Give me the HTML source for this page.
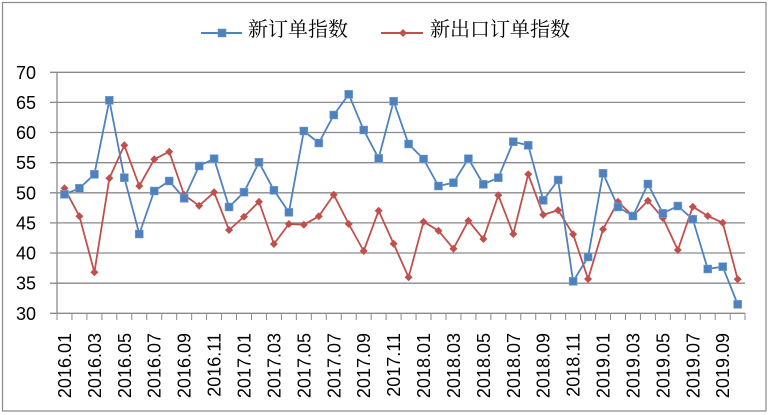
<!DOCTYPE html>
<html><head><meta charset="utf-8"><style>
html,body{margin:0;padding:0;background:#fff;}
svg{display:block;}
text{font-family:"Liberation Sans","DejaVu Sans",sans-serif;}
.cjk{font-family:"Liberation Serif","Noto Serif CJK SC","Noto Sans CJK SC",serif;font-size:20px;fill:#000;}
.yl{font-size:18px;fill:#000;text-anchor:end;}
.xl{font-size:18px;fill:#000;text-anchor:end;}
</style></head><body>
<svg width="771" height="415" viewBox="0 0 771 415" xmlns="http://www.w3.org/2000/svg">
<rect x="0" y="0" width="771" height="415" fill="#fff"/>
<rect x="2.5" y="2.5" width="763.5" height="408.5" fill="none" stroke="#8a8a8a" stroke-width="1.2"/>
<!-- legend -->
<line x1="201" y1="33" x2="242" y2="33" stroke="#4F81BD" stroke-width="2"/>
<rect x="218" y="29" width="8" height="8" fill="#4F81BD" stroke="#6d98cc" stroke-width="0.6"/>
<text class="cjk" x="248" y="36">新订单指数</text>
<line x1="381" y1="33" x2="423" y2="33" stroke="#C0504D" stroke-width="2"/>
<polygon points="403,29 407,33 403,37 399,33" fill="#C0504D"/>
<text class="cjk" x="430" y="36">新出口订单指数</text>
<!-- grid -->
<g stroke="#8a8a8a" stroke-width="1.3">
<line x1="50" y1="72.3" x2="745" y2="72.3"/>
<line x1="50" y1="102.4" x2="745" y2="102.4"/>
<line x1="50" y1="132.5" x2="745" y2="132.5"/>
<line x1="50" y1="162.7" x2="745" y2="162.7"/>
<line x1="50" y1="192.8" x2="745" y2="192.8"/>
<line x1="50" y1="222.9" x2="745" y2="222.9"/>
<line x1="50" y1="253.0" x2="745" y2="253.0"/>
<line x1="50" y1="283.2" x2="745" y2="283.2"/>
<line x1="50" y1="313.3" x2="745" y2="313.3"/>
<line x1="57" y1="72.3" x2="57" y2="313.3"/>
</g>
<g stroke="#8a8a8a" stroke-width="1">
<path d="M57,313v7M71.96,313v7M86.92,313v7M101.88,313v7M116.84,313v7M131.8,313v7M146.76,313v7M161.72,313v7M176.68,313v7M191.64,313v7M206.6,313v7M221.56,313v7M236.52,313v7M251.48,313v7M266.44,313v7M281.4,313v7M296.36,313v7M311.32,313v7M326.28,313v7M341.24,313v7M356.2,313v7M371.16,313v7M386.12,313v7M401.08,313v7M416.04,313v7M431,313v7M445.96,313v7M460.92,313v7M475.88,313v7M490.84,313v7M505.8,313v7M520.76,313v7M535.72,313v7M550.68,313v7M565.64,313v7M580.6,313v7M595.56,313v7M610.52,313v7M625.48,313v7M640.44,313v7M655.4,313v7M670.36,313v7M685.32,313v7M700.28,313v7M715.24,313v7M730.2,313v7M745,313v7"/>
</g>
<!-- y labels -->
<text class="yl" x="36" y="78.8">70</text>
<text class="yl" x="36" y="108.9">65</text>
<text class="yl" x="36" y="139">60</text>
<text class="yl" x="36" y="169.2">55</text>
<text class="yl" x="36" y="199.3">50</text>
<text class="yl" x="36" y="229.4">45</text>
<text class="yl" x="36" y="259.5">40</text>
<text class="yl" x="36" y="289.7">35</text>
<text class="yl" x="36" y="319.8">30</text>
<!-- x labels -->
<g class="xl">
<text transform="translate(71,333) rotate(-90)" class="xl">2016.01</text>
<text transform="translate(100.9,333) rotate(-90)" class="xl">2016.03</text>
<text transform="translate(130.8,333) rotate(-90)" class="xl">2016.05</text>
<text transform="translate(160.7,333) rotate(-90)" class="xl">2016.07</text>
<text transform="translate(190.7,333) rotate(-90)" class="xl">2016.09</text>
<text transform="translate(220.6,333) rotate(-90)" class="xl">2016.11</text>
<text transform="translate(250.5,333) rotate(-90)" class="xl">2017.01</text>
<text transform="translate(280.4,333) rotate(-90)" class="xl">2017.03</text>
<text transform="translate(310.3,333) rotate(-90)" class="xl">2017.05</text>
<text transform="translate(340.3,333) rotate(-90)" class="xl">2017.07</text>
<text transform="translate(370.2,333) rotate(-90)" class="xl">2017.09</text>
<text transform="translate(400.1,333) rotate(-90)" class="xl">2017.11</text>
<text transform="translate(430,333) rotate(-90)" class="xl">2018.01</text>
<text transform="translate(459.9,333) rotate(-90)" class="xl">2018.03</text>
<text transform="translate(489.9,333) rotate(-90)" class="xl">2018.05</text>
<text transform="translate(519.8,333) rotate(-90)" class="xl">2018.07</text>
<text transform="translate(549.7,333) rotate(-90)" class="xl">2018.09</text>
<text transform="translate(579.6,333) rotate(-90)" class="xl">2018.11</text>
<text transform="translate(609.5,333) rotate(-90)" class="xl">2019.01</text>
<text transform="translate(639.5,333) rotate(-90)" class="xl">2019.03</text>
<text transform="translate(669.4,333) rotate(-90)" class="xl">2019.05</text>
<text transform="translate(699.3,333) rotate(-90)" class="xl">2019.07</text>
<text transform="translate(729.2,333) rotate(-90)" class="xl">2019.09</text>
</g>
<!-- red series -->
<polyline fill="none" stroke="#C0504D" stroke-width="1.8" stroke-linejoin="round" points="64.48,188.3 79.44,216.3 94.4,272.3 109.36,178.3 124.32,145.3 139.28,186 154.24,159.3 169.2,151.7 184.16,195 199.12,205.7 214.08,192.3 229.04,230 244,216.7 258.96,201.7 273.92,244 288.88,224 303.84,224.7 318.8,216.3 333.76,194.7 348.72,224 363.68,251 378.64,210.7 393.6,243.7 408.56,277.3 423.52,221.7 438.48,230.7 453.44,248.7 468.4,220.7 483.36,239 498.32,195.3 513.28,234 528.24,174.3 543.2,214.7 558.16,210.3 573.12,234.3 588.08,279 603.04,229.3 618,201.7 632.96,216 647.92,200.7 662.88,218 677.84,250 692.8,206.7 707.76,216 722.72,222.7 737.68,279.3"/>
<g fill="#C0504D">
<path d="M64.48,184.3l4,4l-4,4l-4,-4zM79.44,212.3l4,4l-4,4l-4,-4zM94.4,268.3l4,4l-4,4l-4,-4zM109.36,174.3l4,4l-4,4l-4,-4zM124.32,141.3l4,4l-4,4l-4,-4zM139.28,182l4,4l-4,4l-4,-4zM154.24,155.3l4,4l-4,4l-4,-4zM169.2,147.7l4,4l-4,4l-4,-4zM184.16,191l4,4l-4,4l-4,-4zM199.12,201.7l4,4l-4,4l-4,-4zM214.08,188.3l4,4l-4,4l-4,-4zM229.04,226l4,4l-4,4l-4,-4zM244,212.7l4,4l-4,4l-4,-4zM258.96,197.7l4,4l-4,4l-4,-4zM273.92,240l4,4l-4,4l-4,-4zM288.88,220l4,4l-4,4l-4,-4zM303.84,220.7l4,4l-4,4l-4,-4zM318.8,212.3l4,4l-4,4l-4,-4zM333.76,190.7l4,4l-4,4l-4,-4zM348.72,220l4,4l-4,4l-4,-4zM363.68,247l4,4l-4,4l-4,-4zM378.64,206.7l4,4l-4,4l-4,-4zM393.6,239.7l4,4l-4,4l-4,-4zM408.56,273.3l4,4l-4,4l-4,-4zM423.52,217.7l4,4l-4,4l-4,-4zM438.48,226.7l4,4l-4,4l-4,-4zM453.44,244.7l4,4l-4,4l-4,-4zM468.4,216.7l4,4l-4,4l-4,-4zM483.36,235l4,4l-4,4l-4,-4zM498.32,191.3l4,4l-4,4l-4,-4zM513.28,230l4,4l-4,4l-4,-4zM528.24,170.3l4,4l-4,4l-4,-4zM543.2,210.7l4,4l-4,4l-4,-4zM558.16,206.3l4,4l-4,4l-4,-4zM573.12,230.3l4,4l-4,4l-4,-4zM588.08,275l4,4l-4,4l-4,-4zM603.04,225.3l4,4l-4,4l-4,-4zM618,197.7l4,4l-4,4l-4,-4zM632.96,212l4,4l-4,4l-4,-4zM647.92,196.7l4,4l-4,4l-4,-4zM662.88,214l4,4l-4,4l-4,-4zM677.84,246l4,4l-4,4l-4,-4zM692.8,202.7l4,4l-4,4l-4,-4zM707.76,212l4,4l-4,4l-4,-4zM722.72,218.7l4,4l-4,4l-4,-4zM737.68,275.3l4,4l-4,4l-4,-4z"/>
</g>
<!-- blue series -->
<polyline fill="none" stroke="#4F81BD" stroke-width="1.8" stroke-linejoin="round" points="64.48,194.3 79.44,188.3 94.4,174.3 109.36,100.3 124.32,177.7 139.28,234 154.24,191 169.2,181 184.16,198.3 199.12,166 214.08,158.7 229.04,207 244,192.2 258.96,162.3 273.92,190.3 288.88,212.3 303.84,131 318.8,143 333.76,115 348.72,94.3 363.68,130 378.64,158.3 393.6,101.3 408.56,144 423.52,159 438.48,186 453.44,182.7 468.4,158.7 483.36,184.3 498.32,177.7 513.28,141.7 528.24,145.3 543.2,200.3 558.16,180 573.12,281.3 588.08,257 603.04,173.3 618,207 632.96,216 647.92,184 662.88,213.3 677.84,206 692.8,219.3 707.76,269 722.72,266.7 737.68,304.3"/>
<g fill="#4F81BD" stroke="#7aa3d4" stroke-width="0.6">
<path d="M60.48,190.3h8v8h-8zM75.44,184.3h8v8h-8zM90.4,170.3h8v8h-8zM105.36,96.3h8v8h-8zM120.32,173.7h8v8h-8zM135.28,230h8v8h-8zM150.24,187h8v8h-8zM165.2,177h8v8h-8zM180.16,194.3h8v8h-8zM195.12,162h8v8h-8zM210.08,154.7h8v8h-8zM225.04,203h8v8h-8zM240,188.2h8v8h-8zM254.96,158.3h8v8h-8zM269.92,186.3h8v8h-8zM284.88,208.3h8v8h-8zM299.84,127h8v8h-8zM314.8,139h8v8h-8zM329.76,111h8v8h-8zM344.72,90.3h8v8h-8zM359.68,126h8v8h-8zM374.64,154.3h8v8h-8zM389.6,97.3h8v8h-8zM404.56,140h8v8h-8zM419.52,155h8v8h-8zM434.48,182h8v8h-8zM449.44,178.7h8v8h-8zM464.4,154.7h8v8h-8zM479.36,180.3h8v8h-8zM494.32,173.7h8v8h-8zM509.28,137.7h8v8h-8zM524.24,141.3h8v8h-8zM539.2,196.3h8v8h-8zM554.16,176h8v8h-8zM569.12,277.3h8v8h-8zM584.08,253h8v8h-8zM599.04,169.3h8v8h-8zM614,203h8v8h-8zM628.96,212h8v8h-8zM643.92,180h8v8h-8zM658.88,209.3h8v8h-8zM673.84,202h8v8h-8zM688.8,215.3h8v8h-8zM703.76,265h8v8h-8zM718.72,262.7h8v8h-8zM733.68,300.3h8v8h-8z"/>
</g>
</svg>
</body></html>
